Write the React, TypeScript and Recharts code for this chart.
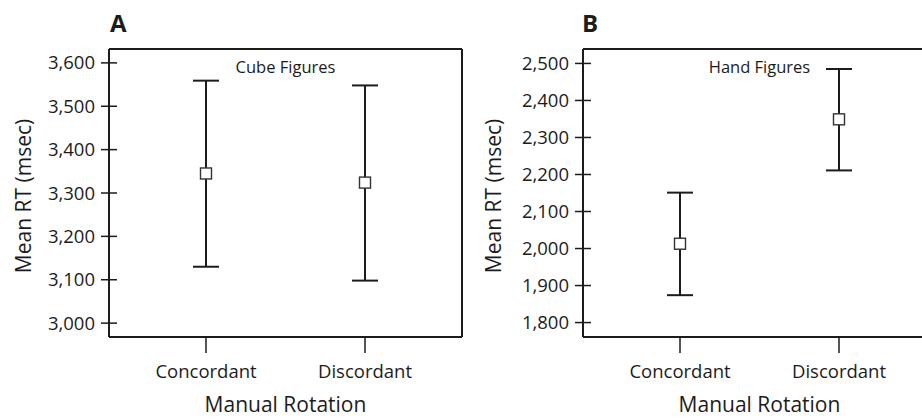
import { ErrorBar, Line, LineChart, ReferenceLine, XAxis, YAxis } from "recharts";

const categories = ["Concordant", "Discordant"];

// panel A: cube figures
const cubeMeans = [3345, 3324];
const cubeErrors = [
    [215, 214],
    [226, 224],
];
const cubeTicks = [3000, 3100, 3200, 3300, 3400, 3500, 3600];
const cubeDomain = [2968, 3632];

// panel B: hand figures
const handMeans = [2013, 2349];
const handErrors = [
    [139, 138],
    [138, 136],
];
const handTicks = [1800, 1900, 2000, 2100, 2200, 2300, 2400, 2500];
const handDomain = [1761, 2539];

const ink = "#1c1c1c";
const font = '"Open Sans", sans-serif';

function YTick(props: any) {
    const { x, y, payload } = props;
    return (
        <g>
            <line x1={x + 6} x2={x + 22} y1={y} y2={y} stroke={ink} strokeWidth={1.5} />
            <text x={x} y={y} dy="0.355em" textAnchor="end" fontSize={18.5} fill={ink} fontFamily={font}>
                {Number(payload.value).toLocaleString("en-US")}
            </text>
        </g>
    );
}

function YTitle(props: any) {
    const { viewBox } = props;
    const cx = viewBox.x + 23;
    const cy = viewBox.y + viewBox.height / 2 + 3;
    return (
        <text
            x={cx}
            y={cy}
            transform={`rotate(-90 ${cx} ${cy})`}
            textAnchor="middle"
            dy="0.36em"
            fontSize={21}
            fill={ink}
            fontFamily={font}
        >
            Mean RT (msec)
        </text>
    );
}

function SquareDot(props: any) {
    const { cx, cy, index } = props;
    return (
        <rect
            key={`dot-${index}`}
            x={cx - 5.5}
            y={cy - 5.5}
            width={11}
            height={11}
            fill="#fff"
            stroke="#333"
            strokeWidth={1.4}
        />
    );
}

interface PanelProps {
    means: number[];
    errors: number[][];
    ticks: number[];
    domain: number[];
    title: string;
    axisWidth: number;
    marginRight: number;
    rightEdge: boolean;
}

function Panel({ means, errors, ticks, domain, title, axisWidth, marginRight, rightEdge }: PanelProps) {
    const data = categories.map((c, i) => ({ cond: c, mean: means[i], err: errors[i] }));
    return (
        <LineChart
            width={470}
            height={419}
            data={data}
            margin={{ top: 49, right: marginRight, bottom: 0, left: 0 }}
        >
            <XAxis
                dataKey="cond"
                scale="point"
                padding={{ left: 97, right: 97 }}
                height={82}
                tickSize={16}
                tickMargin={12}
                axisLine={{ stroke: ink, strokeWidth: 2 }}
                tickLine={{ stroke: ink, strokeWidth: 1.5 }}
                tick={{ fill: ink, fontSize: 18.5, fontFamily: font }}
                label={{ value: "Manual Rotation", position: "insideBottom", offset: 7, fill: ink, fontSize: 21, fontFamily: font }}
            />
            <YAxis
                type="number"
                domain={domain}
                ticks={ticks}
                width={axisWidth}
                tickSize={8}
                tickMargin={6}
                tickLine={false}
                axisLine={{ stroke: ink, strokeWidth: 2 }}
                tick={<YTick />}
                label={<YTitle />}
            />
            {rightEdge && (
                <YAxis
                    yAxisId="right"
                    orientation="right"
                    width={1}
                    tick={false}
                    tickLine={false}
                    axisLine={{ stroke: ink, strokeWidth: 2 }}
                />
            )}
            {/* top edge of the frame, carrying the panel title */}
            <ReferenceLine
                y={domain[1]}
                stroke={ink}
                strokeWidth={2}
                label={{ value: title, position: "bottom", offset: 12, fill: ink, fontSize: 16.5, fontFamily: font }}
            />
            <Line dataKey="mean" stroke="none" dot={SquareDot} activeDot={false} isAnimationActive={false}>
                <ErrorBar dataKey="err" direction="y" width={13} stroke={ink} strokeWidth={2} />
            </Line>
        </LineChart>
    );
}

export default function App() {
    const letter = {
        position: "absolute" as const,
        top: 11,
        fontFamily: font,
        fontWeight: 700,
        fontSize: 24,
        lineHeight: "24px",
        color: ink,
    };
    return (
        <div
            style={{
                position: "absolute",
                left: 0,
                top: 0,
                width: 922,
                height: 419,
                overflow: "hidden",
                background: "#fff",
            }}
        >
            <div style={{ position: "absolute", left: 0, top: 0 }}>
                <Panel
                    means={cubeMeans}
                    errors={cubeErrors}
                    ticks={cubeTicks}
                    domain={cubeDomain}
                    title="Cube Figures"
                    axisWidth={109}
                    marginRight={7}
                    rightEdge={true}
                />
            </div>
            {/* panel B runs past the right edge of the figure, so its frame is cut off */}
            <div style={{ position: "absolute", left: 470, top: 0, width: 452, height: 419, overflow: "hidden" }}>
                <Panel
                    means={handMeans}
                    errors={handErrors}
                    ticks={handTicks}
                    domain={handDomain}
                    title="Hand Figures"
                    axisWidth={113}
                    marginRight={4}
                    rightEdge={false}
                />
            </div>
            <div style={{ ...letter, left: 110 }}>A</div>
            <div style={{ ...letter, left: 582 }}>B</div>
        </div>
    );
}
